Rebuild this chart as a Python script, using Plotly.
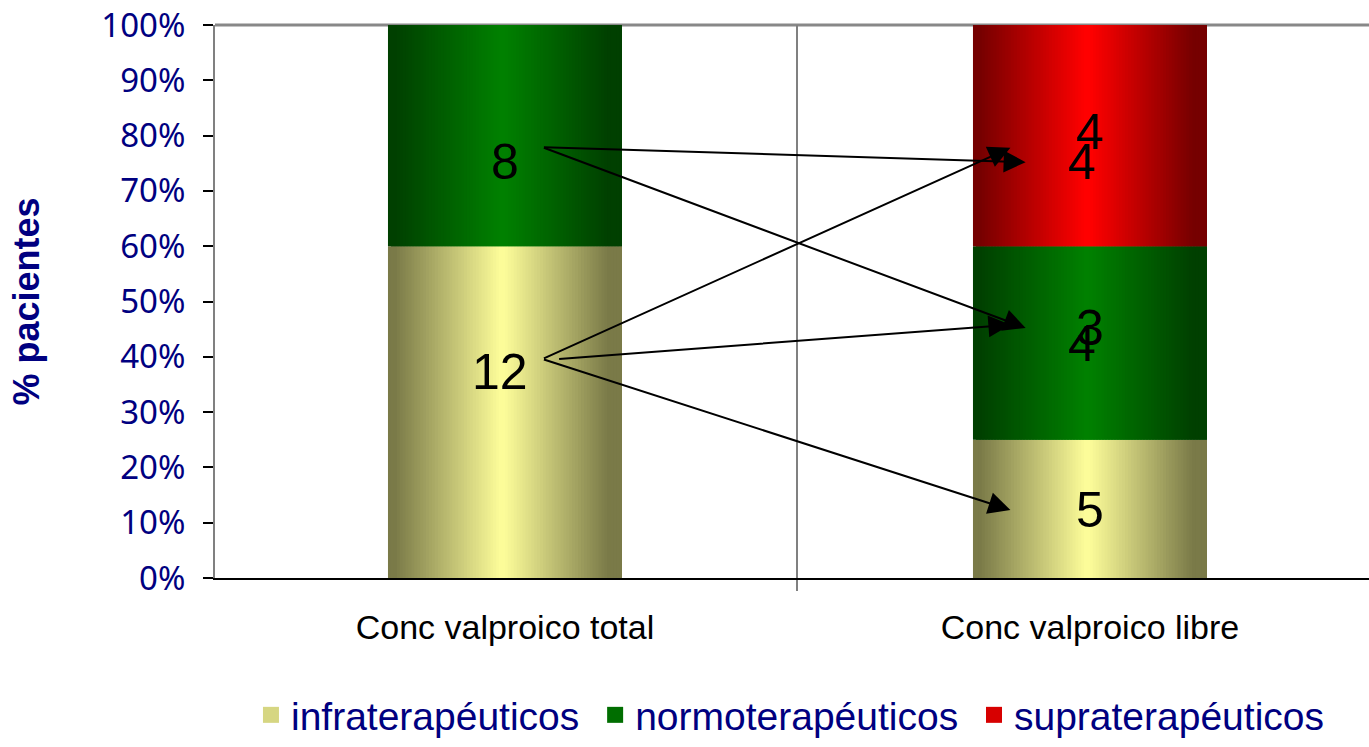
import plotly.graph_objects as go

# datos: pacientes por categoria (total 20 en cada columna)
categories = ["Conc valproico total", "Conc valproico libre"]
series_names = ["infraterapéuticos", "normoterapéuticos", "supraterapéuticos"]
infra = [12, 5]
normo = [8, 7]
supra = [0, 8]
y_ticks = [0, 10, 20, 30, 40, 50, 60, 70, 80, 90, 100]

# etiquetas de texto dentro de las barras (numero de pacientes)
label_text = ["12", "8", "5", "4", "3", "4", "4"]
label_cat = [0, 0, 1, 1, 1, 1, 1]
label_pos = [37.2, 75.2, 12.3, 42.4, 45.2, 80.7, 75.3]
label_dx = [-0.009, 0.0, 0.0, -0.014, 0.0, 0.0, -0.014]

# flechas: de la columna total a la columna libre
arrow_from_x = [0.064, 0.064, 0.064, 0.090, 0.064]
arrow_from_y = [77.9, 77.9, 39.6, 39.6, 39.6]
arrow_to_x = [0.890, 0.890, 0.864, 0.864, 0.864]
arrow_to_y = [75.2, 45.2, 77.8, 45.8, 12.3]

NAVY = "#000080"
BAR_W = 0.4
N_STRIPES = 80

shades = [
    ((122, 122, 72), (252, 252, 153)),
    ((0, 64, 0), (0, 128, 0)),
    ((118, 0, 0), (255, 0, 0)),
]


def shade_at(t, dark, light):
    # cylinder look: dark edges, light in the middle (linear ramps)
    if t < 0.48:
        u = (t - 0.03) / 0.45
    elif t < 0.50:
        u = 1.0
    else:
        u = (0.94 - t) / 0.44
    s = min(max(u, 0.0), 1.0)
    rgb = [round(d + (l - d) * s) for d, l in zip(dark, light)]
    return f"rgb({rgb[0]},{rgb[1]},{rgb[2]})"


totals = [a + b + c for a, b, c in zip(infra, normo, supra)]
values = [infra, normo, supra]
pct = [[v / t * 100 for v, t in zip(vals, totals)] for vals in values]

fig = go.Figure()

base = [0.0] * len(categories)
step = BAR_W / N_STRIPES
for i, name in enumerate(series_names):
    dark, light = shades[i]
    for k in range(N_STRIPES):
        t = (k + 0.5) / N_STRIPES
        w = step if k == N_STRIPES - 1 else step * 2
        fig.add_trace(
            go.Bar(
                x=categories,
                y=pct[i],
                base=base,
                offset=-BAR_W / 2 + k * step,
                width=w,
                marker=dict(color=shade_at(t, dark, light), line=dict(width=0)),
                name=name,
                showlegend=False,
                hoverinfo="skip",
            )
        )
    base = [b + p for b, p in zip(base, pct[i])]

# legend entries (bigger square swatch than the bar default)
for i, name in enumerate(series_names):
    dark, light = shades[i]
    fig.add_trace(
        go.Scatter(
            x=[None],
            y=[None],
            mode="markers",
            marker=dict(symbol="square", size=22, color=shade_at(0.35, dark, light)),
            name=name + "\u00a0",
        )
    )

for txt, c, y, dx in zip(label_text, label_cat, label_pos, label_dx):
    fig.add_annotation(
        x=c + dx,
        y=y,
        xref="x",
        yref="y",
        text=txt,
        showarrow=False,
        font=dict(family="Liberation Sans", size=50, color="black"),
    )

for x0, y0, x1, y1 in zip(arrow_from_x, arrow_from_y, arrow_to_x, arrow_to_y):
    fig.add_annotation(
        x=x1,
        y=y1,
        ax=x0,
        ay=y0,
        xref="x",
        yref="y",
        axref="x",
        ayref="y",
        text="",
        showarrow=True,
        arrowhead=2,
        arrowsize=2.2,
        arrowwidth=2,
        arrowcolor="black",
        standoff=0,
    )

fig.update_layout(
    width=1369,
    height=747,
    margin=dict(l=215, r=0, t=25, b=169),
    barmode="overlay",
    plot_bgcolor="white",
    paper_bgcolor="white",
    hovermode=False,
    legend=dict(
        orientation="h",
        x=0.503,
        xanchor="center",
        y=-0.3056,
        yanchor="bottom",
        font=dict(family="Liberation Sans", size=39, color=NAVY),
        bgcolor="rgba(0,0,0,0)",
    ),
    shapes=[
        dict(
            type="line", xref="paper", yref="paper", x0=0, x1=1, y0=1, y1=1,
            line=dict(color="#888888", width=3), layer="below",
        )
    ],
)

fig.update_xaxes(
    type="category",
    range=[-0.4957, 1.477],
    tickson="boundaries",
    ticks="outside",
    ticklen=11,
    tickwidth=2,
    tickcolor="#808080",
    showgrid=True,
    gridcolor="#808080",
    gridwidth=1.5,
    showline=True,
    linecolor="black",
    linewidth=2,
    zeroline=False,
    tickfont=dict(family="Liberation Sans", size=34, color="black"),
    ticklabelstandoff=18,
    automargin=False,
)

fig.update_yaxes(
    range=[0, 100],
    tickvals=y_ticks,
    ticktext=[f"{v}%" for v in y_ticks],
    ticks="outside",
    ticklen=10,
    tickwidth=2,
    tickcolor="black",
    showline=True,
    linecolor="#808080",
    linewidth=2,
    showgrid=False,
    zeroline=False,
    tickfont=dict(family="Noto Sans", size=33, color=NAVY),
    ticklabelstandoff=11,
    title=dict(
        text="% pacientes",
        font=dict(family="Liberation Sans", size=36, color=NAVY, weight="bold"),
        standoff=51,
    ),
    automargin=False,
)

# the page body has an 8px margin by default; drop it so the chart fills the window
fig.write_html(
    "out.html",
    config={"displayModeBar": False},
    post_script="document.body.style.margin = '0px';",
)
